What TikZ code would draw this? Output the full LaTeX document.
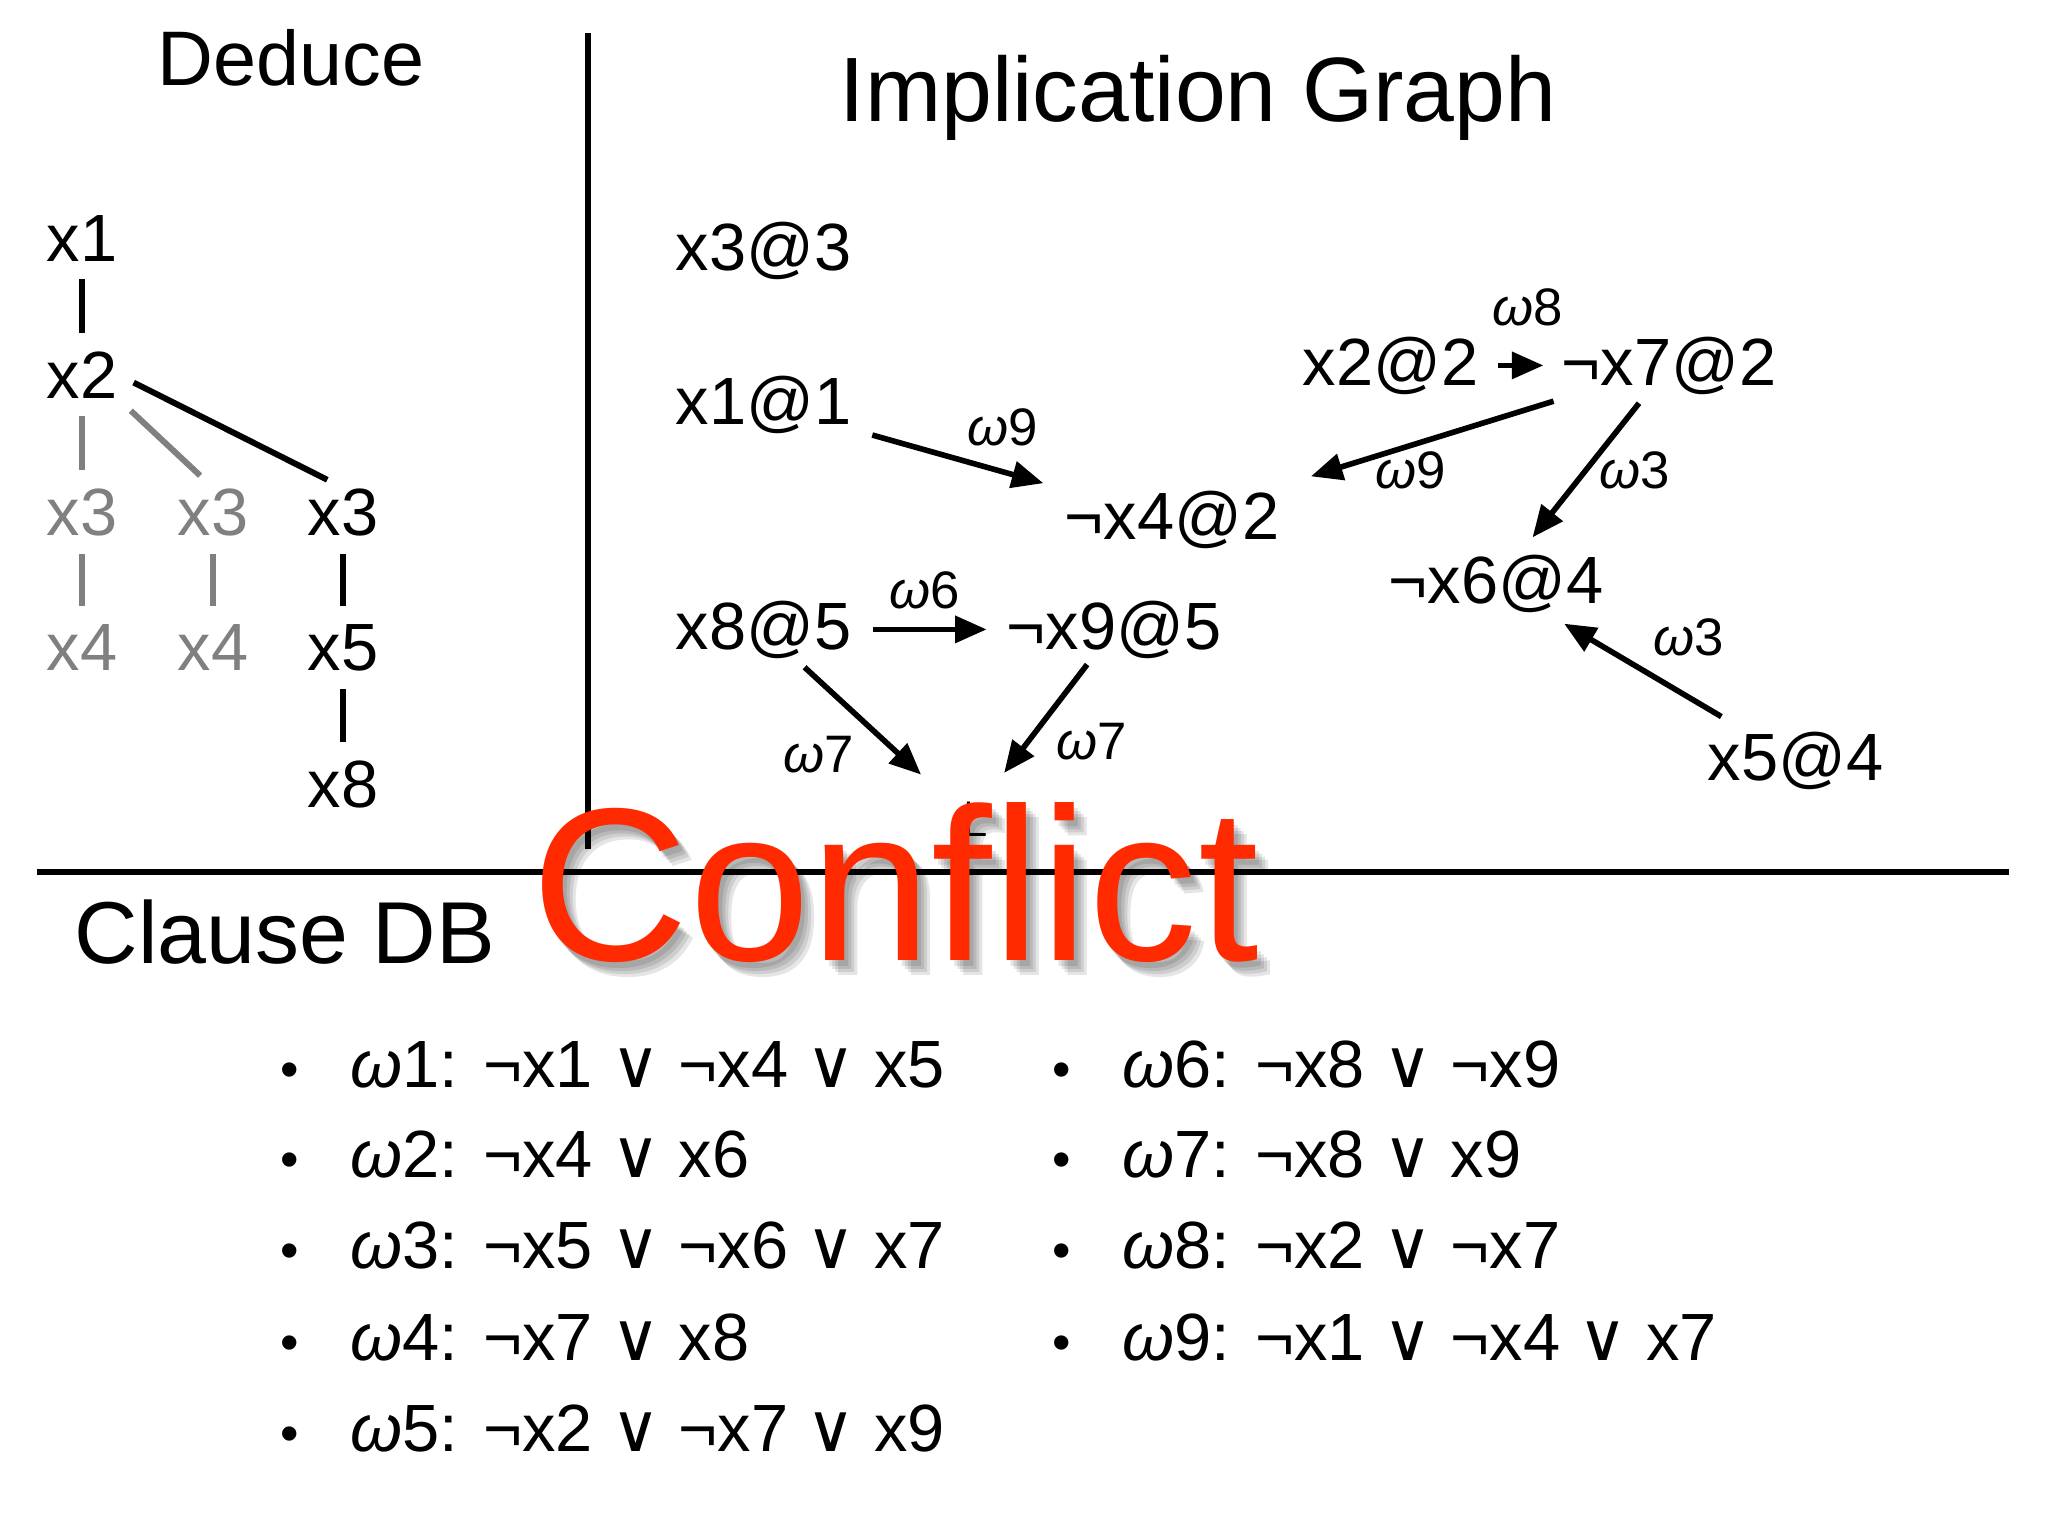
\documentclass[tikz,border=0pt]{standalone}
\usepackage{fontspec}
\setmainfont{Liberation Sans}
\newfontfamily\symfont{DejaVu Sans}
\usetikzlibrary{arrows.meta}
\definecolor{deadgray}{HTML}{808080}
\definecolor{conflictred}{HTML}{FF2A00}
\newcommand{\om}{{\itshape ω}}
\newcommand{\dis}{{\symfont ∨}}
\newcommand{\clause}[4]{\node[bul] at (#1,#2) {\textbullet}; \node[clause] (#3) at (#1+60,#2) {#4};}
\tikzset{
  rule/.style={line width=1.5pt},
  heading/.style={anchor=base, inner sep=0pt},
  lit/.style={anchor=base, inner sep=0pt, font=\fontsize{19}{23}\selectfont},
  dead/.style={lit, text=deadgray},
  vert/.style={anchor=base west, inner sep=0pt, font=\fontsize{19}{23}\selectfont},
  wlab/.style={inner sep=0pt, font=\fontsize{15}{18}\selectfont},
  branch/.style={line width=1.7pt, shorten <=5pt, shorten >=5pt},
  deadbranch/.style={branch, draw=deadgray},
  imp/.style={line width=1.6pt, -{Triangle[length=9pt,width=7.5pt]}},
  bul/.style={anchor=base, inner sep=0pt, font=\fontsize{15}{18}\selectfont},
  clause/.style={anchor=base west, inner sep=0pt, font=\fontsize{19}{23}\selectfont},
}

\begin{document}
\begin{tikzpicture}[x=0.01cm,y=-0.01cm]
    \useasboundingbox (0,0) rectangle (2048,1536);
    % frame
    \draw[rule] (588,33) -- (588,849);
    \draw[rule] (37,872) -- (2009,872);
    % headings
    \node[heading, font=\fontsize{22}{26}\selectfont] (deduce) at (291,85) {Deduce};
    \node[heading, font=\fontsize{26}{30}\selectfont] (impgraph) at (1198,121) {Implication Graph};
    \node[heading, anchor=base west, font=\fontsize{25}{30}\selectfont] (clausedb) at (74,963) {Clause DB};
    % decision tree
    \node[lit] (d1) at (82,261) {x1};
    \node[lit] (d2) at (82,398) {x2};
    \node[dead] (d3a) at (82,535) {x3};
    \node[dead] (d3b) at (213,535) {x3};
    \node[lit] (d3c) at (343,535) {x3};
    \node[dead] (d4a) at (82,670) {x4};
    \node[dead] (d4b) at (213,670) {x4};
    \node[lit] (d5) at (343,670) {x5};
    \node[lit] (d8) at (343,807) {x8};
    \draw[branch] (d1) -- (d2);
    \draw[deadbranch] (d2) -- (d3a);
    \draw[deadbranch] (d2.south east) -- (d3b.north);
    \draw[branch] (d2.east) -- (d3c.north);
    \draw[deadbranch] (d3a) -- (d4a);
    \draw[deadbranch] (d3b) -- (d4b);
    \draw[branch] (d3c) -- (d5);
    \draw[branch] (d5) -- (d8);
    % implication graph
    \node[vert] (x33) at (675,270) {x3@3};
    \node[vert] (x11) at (675,424) {x1@1};
    \node[vert] (nx42) at (1064,539) {¬x4@2};
    \node[vert] (x85) at (675,649) {x8@5};
    \node[vert] (nx95) at (1006,649) {¬x9@5};
    \node[vert] (x22) at (1302,385) {x2@2};
    \node[vert] (nx72) at (1561,385) {¬x7@2};
    \node[vert] (nx64) at (1388,603) {¬x6@4};
    \node[vert] (x54) at (1707,780) {x5@4};
    \node[heading, font=\symfont\fontsize{14}{16}\selectfont] (bot) at (969,836) {⊥};
    \draw[imp, shorten <=6pt, shorten >=7pt] (x11) -- (nx42);
    \draw[imp, shorten <=5.5pt, shorten >=5pt] (x22) -- (nx72);
    \draw[imp, shorten <=6pt, shorten >=13pt] (nx72) -- (nx42);
    \draw[imp, shorten <=3pt, shorten >=6pt] (nx72) -- (nx64);
    \draw[imp, shorten <=8pt, shorten >=6pt] (x54) -- (nx64);
    \draw[imp, shorten <=6pt, shorten >=5.5pt] (x85) -- (nx95);
    \draw[imp, shorten <=3.5pt, shorten >=11pt] (x85) -- (bot);
    \draw[imp, shorten <=2pt, shorten >=10pt] (nx95) -- (bot);
    \node[wlab] (w9a) at (1003,427) {\om9};
    \node[wlab] (w9b) at (1411,470) {\om9};
    \node[wlab] (w8) at (1528,307) {\om8};
    \node[wlab] (w3a) at (1635,470) {\om3};
    \node[wlab] (w3b) at (1689,637) {\om3};
    \node[wlab] (w6) at (925,590) {\om6};
    \node[wlab] (w7a) at (819,755) {\om7};
    \node[wlab] (w7b) at (1092,742) {\om7};
    % clause db
    \clause{290}{1087}{c1}{\om1: ¬x1 \dis{} ¬x4 \dis{} x5}
    \clause{290}{1177}{c2}{\om2: ¬x4 \dis{} x6}
    \clause{290}{1268}{c3}{\om3: ¬x5 \dis{} ¬x6 \dis{} x7}
    \clause{290}{1360}{c4}{\om4: ¬x7 \dis{} x8}
    \clause{290}{1451}{c5}{\om5: ¬x2 \dis{} ¬x7 \dis{} x9}
    \clause{1062}{1087}{c6}{\om6: ¬x8 \dis{} ¬x9}
    \clause{1062}{1177}{c7}{\om7: ¬x8 \dis{} x9}
    \clause{1062}{1268}{c8}{\om8: ¬x2 \dis{} ¬x7}
    \clause{1062}{1360}{c9}{\om9: ¬x1 \dis{} ¬x4 \dis{} x7}
    % conflict
    \foreach \dx/\dy in {4/6, 7/9, 10/12, 13/15}
        \node[heading, anchor=base west, font=\fontsize{62}{70}\selectfont, text=black, opacity=0.1] at (531+\dx,960+\dy) {Conflict};
    \node[heading, anchor=base west, font=\fontsize{62}{70}\selectfont, text=conflictred] (conflict) at (531,960) {Conflict};
\end{tikzpicture}
\end{document}
